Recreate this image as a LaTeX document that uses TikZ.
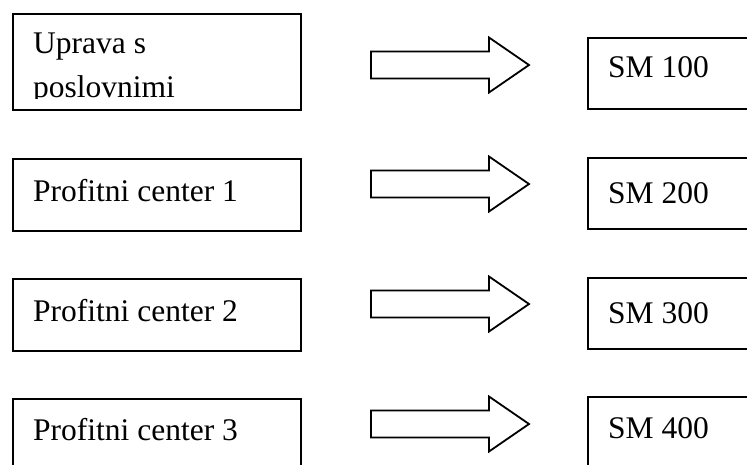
\documentclass[tikz,border=0pt]{standalone}
\usepackage{fontspec}
\setmainfont{Liberation Serif}
\begin{document}
\begin{tikzpicture}[x=1pt,y=-1pt,
  boxline/.style={draw=black,line width=2pt},
  label/.style={anchor=base west,inner sep=0pt,font=\fontsize{31.5}{44}\selectfont},
  blockarrow/.style={draw=black,line width=1.8pt,line join=miter,fill=white}]
\useasboundingbox (0,0) rectangle (747,464);
\clip (0,0) rectangle (747,464);
% left boxes
\node[boxline,minimum width=288pt,minimum height=96pt,anchor=north west,inner sep=0pt] (L1) at (12,13) {};
\node[boxline,minimum width=288pt,minimum height=72pt,anchor=north west,inner sep=0pt] (L2) at (12,158) {};
\node[boxline,minimum width=288pt,minimum height=72pt,anchor=north west,inner sep=0pt] (L3) at (12,278) {};
\node[boxline,minimum width=288pt,minimum height=80pt,anchor=north west,inner sep=0pt] (L4) at (12,398) {};
% right boxes
\node[boxline,minimum width=200pt,minimum height=71pt,anchor=north west,inner sep=0pt] (R1) at (587,37) {};
\node[boxline,minimum width=200pt,minimum height=71pt,anchor=north west,inner sep=0pt] (R2) at (587,157) {};
\node[boxline,minimum width=200pt,minimum height=71pt,anchor=north west,inner sep=0pt] (R3) at (587,277) {};
\node[boxline,minimum width=200pt,minimum height=80pt,anchor=north west,inner sep=0pt] (R4) at (587,396) {};
% texts
\begin{scope}
\clip (13,14) rectangle (299,98);
\node[label] (t1a) at (33,53) {Uprava s};
\node[label] (t1b) at (33,97.5) {poslovnimi};
\end{scope}
\node[label] (t2) at (33,201) {Profitni center 1};
\node[label] (t3) at (33,321) {Profitni center 2};
\node[label] (t4) at (33,440) {Profitni center 3};
\node[label] (s1) at (608,77) {SM 100};
\node[label] (s2) at (608,203) {SM 200};
\node[label] (s3) at (608,323) {SM 300};
\node[label] (s4) at (608,438) {SM 400};
% block arrows
\foreach \c/\n in {65/1,184/2,304/3,424/4}{
  \draw[blockarrow] (371,\c-13.5) -- (489,\c-13.5) -- (489,\c-27.5) -- (529,\c) -- (489,\c+27.5) -- (489,\c+13.5) -- (371,\c+13.5) -- cycle;
}
\end{tikzpicture}
\end{document}
